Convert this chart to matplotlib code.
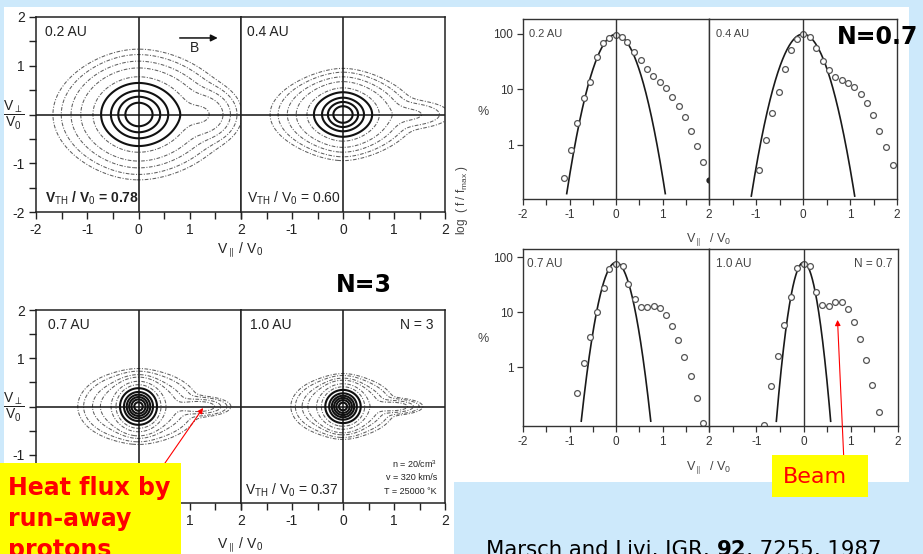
import numpy as np
import matplotlib
matplotlib.use('Agg')
import matplotlib.pyplot as plt
from matplotlib.patches import Rectangle
from matplotlib.ticker import MultipleLocator, FixedLocator, FixedFormatter, NullLocator

W, H = 923, 554
BG = '#cde9fb'

plt.rcParams['mathtext.fontset'] = 'custom'
plt.rcParams['mathtext.rm'] = 'Liberation Sans'
plt.rcParams['mathtext.it'] = 'Liberation Sans:italic'
plt.rcParams['mathtext.bf'] = 'Liberation Sans:bold'
plt.rcParams['axes.unicode_minus'] = False

# ---------------- data ----------------
# contour panels (model distribution parameters: core + halo + beam)
contour_labels = ['0.2 AU', '0.4 AU', '0.7 AU', '1.0 AU']
core_ax_left = [0.524, 0.3735, 0.25, 0.237]
core_ax_right = [0.56, 0.3735, 0.25, 0.237]
core_cx = [3.56, 1.275, 1e6, 1e6]
core_ay = [0.51, 0.36, 0.27, 0.245]
halo_n = [0.0, 0.0, 0.0455, 0.07]
halo_wx = [1.0, 1.0, 0.61, 0.50]
halo_wy = [1.0, 1.0, 0.394, 0.315]
beam_n = [0.10, 0.012, 0.02, 0.02]
beam_u = [1.25, 1.30, 1.20, 1.00]
beam_wx = [0.35, 0.50, 0.35, 0.33]
beam_wy = [0.30, 0.18, 0.12, 0.10]
thick_levels_top = [0.2, 0.4, 0.6, 0.8]
thin_levels_top = [0.001, 0.003, 0.01, 0.03, 0.1]
thick_levels_bottom = [0.15, 0.3, 0.45, 0.6, 0.75, 0.9]
thin_levels_bottom = [0.001, 0.002, 0.005, 0.01, 0.03, 0.07]
vth_values = ['0.78', '0.60', '0.37']

# reduced distributions (percent of f_max)
dist_labels = ['0.2 AU', '0.4 AU', '0.7 AU', '1.0 AU']
v_02 = [-1.125, -0.975, -0.83, -0.69, -0.56, -0.415, -0.28, -0.15, 0.0, 0.12, 0.24, 0.39,
        0.53, 0.67, 0.80, 0.94, 1.075, 1.21, 1.35, 1.48, 1.61, 1.75, 1.88]
f_02 = [0.25, 0.82, 2.5, 7.1, 13.6, 37.5, 69, 83, 96, 87, 70, 47,
        33, 23.2, 17.3, 13.3, 10.4, 7.4, 5.1, 3.15, 1.79, 0.96, 0.49]
v_04 = [-0.93, -0.78, -0.65, -0.52, -0.375, -0.25, -0.12, 0.0, 0.14, 0.28, 0.42, 0.55,
        0.68, 0.82, 0.96, 1.09, 1.23, 1.355, 1.49, 1.62, 1.77, 1.91]
f_04 = [0.36, 1.21, 3.7, 9.1, 22.8, 51.5, 80, 98, 88, 55, 31.8, 21.8,
        16.6, 14.4, 13.1, 11.1, 8.3, 5.6, 3.4, 1.81, 0.93, 0.43]
v_07 = [-0.83, -0.69, -0.55, -0.41, -0.26, -0.14, 0.0, 0.14, 0.26, 0.41, 0.54, 0.67,
        0.81, 0.94, 1.07, 1.21, 1.34, 1.47, 1.61, 1.74, 1.87]
f_07 = [0.34, 1.17, 3.5, 10.1, 26.9, 60.5, 76, 68, 32.3, 17, 12.5, 12.6,
        12.8, 11.7, 8.7, 5.6, 3.1, 1.52, 0.69, 0.27, 0.095]
v_10 = [-0.84, -0.69, -0.55, -0.41, -0.27, -0.13, 0.0, 0.135, 0.26, 0.40, 0.53, 0.67,
        0.81, 0.94, 1.06, 1.19, 1.33, 1.45, 1.59]
f_10 = [0.088, 0.45, 1.56, 5.8, 18.7, 62, 76, 68, 23.4, 13.4, 13.0, 15.4,
        15.2, 11.2, 6.5, 3.2, 1.32, 0.48, 0.15]
extra_v = [2.0]
extra_f = [0.23]
fit_peak = [97, 98, 80, 80]
fit_vth = [0.413, 0.425, 0.29, 0.223]
fit_floor = [0.13, 0.12, 0.10, 0.10]

# ---------------- figure ----------------
fig = plt.figure(figsize=(W / 100, H / 100), dpi=100)
fig.patch.set_facecolor(BG)


def rect_px(x0, y0, x1, y1, color, z):
    fig.add_artist(Rectangle((x0 / W, 1 - y1 / H), (x1 - x0) / W, (y1 - y0) / H,
                             transform=fig.transFigure, facecolor=color,
                             edgecolor='none', zorder=z))


def axes_px(x0, y0, x1, y1):
    a = fig.add_axes([x0 / W, 1 - y1 / H, (x1 - x0) / W, (y1 - y0) / H])
    a.set_facecolor('white')
    return a


def ft(x, y, s, **kw):
    kw.setdefault('ha', 'left')
    kw.setdefault('va', 'center')
    return fig.text(x / W, 1 - y / H, s, **kw)


rect_px(4, 7, 454, 554, 'white', -5)
rect_px(454, 7, 909, 482, 'white', -5)

SCAN = 'Liberation Sans'
TXT = '#222222'

# ---------- contour panels ----------
xg = np.linspace(-2.3, 2.3, 461)
X, Y = np.meshgrid(xg, xg)


def model(i):
    axw = np.where(X < 0, core_ax_left[i], core_ax_right[i])
    gx = (X / axw) ** 2 / (1 + np.abs(X) / core_cx[i])
    core = np.exp(-gx - (Y / core_ay[i]) ** 2)
    halo = halo_n[i] * np.exp(-(X / halo_wx[i]) ** 2 - (Y / halo_wy[i]) ** 2)
    beam = beam_n[i] * np.exp(-((X - beam_u[i]) / beam_wx[i]) ** 2 - (Y / beam_wy[i]) ** 2)
    F = core + halo + beam
    return F / F.max()


def contour_panel(box, i, left, thin_lv, thick_lv):
    a = axes_px(*box)
    F = model(i)
    a.contour(X, Y, F, levels=thin_lv, colors='#606060', linewidths=0.75,
              linestyles=[(0, (3.5, 1.5, 1, 1.5))])
    a.contour(X, Y, F, levels=thick_lv, colors='#111111', linewidths=1.5)
    a.axhline(0, color='#111111', lw=1.1)
    a.axvline(0, color='#111111', lw=1.1)
    a.set_xlim(-2, 2)
    a.set_ylim(-2, 2)
    for s in a.spines.values():
        s.set_linewidth(1.1)
        s.set_color('#222222')
    a.xaxis.set_major_locator(FixedLocator([-2, -1, 0, 1, 2]))
    a.xaxis.set_minor_locator(MultipleLocator(0.5))
    if left:
        a.set_xticklabels(['-2', '-1', '0', '1', '2'])
        a.yaxis.set_major_locator(FixedLocator([-2, -1, 0, 1, 2]))
        a.yaxis.set_minor_locator(MultipleLocator(0.5))
        a.set_yticklabels(['-2', '-1', '', '1', '2'])
    else:
        a.set_xticklabels(['', '-1', '0', '1', '2'])
        a.yaxis.set_major_locator(NullLocator())
    a.tick_params(which='both', direction='out', length=5, width=1.0, color='#222222',
                  labelsize=10, labelcolor=TXT, pad=3)
    for lab in a.get_xticklabels() + a.get_yticklabels():
        lab.set_fontfamily(SCAN)
    return a


cA = contour_panel((36, 17, 241, 212), 0, True, thin_levels_top, thick_levels_top)
cB = contour_panel((241, 17, 445, 212), 1, False, thin_levels_top, thick_levels_top)
cC = contour_panel((36, 310, 241, 503), 2, True, thin_levels_bottom, thick_levels_bottom)
cD = contour_panel((241, 310, 445, 503), 3, False, thin_levels_bottom, thick_levels_bottom)

cA.annotate('', xy=(1.6, 1.57), xytext=(0.75, 1.57),
            arrowprops=dict(arrowstyle='-|>', color='#111111', lw=1.1, mutation_scale=10))
ft(190, 48, 'B', family=SCAN, fontsize=10, color=TXT)

ft(45, 32, contour_labels[0], family=SCAN, fontsize=10, color=TXT)
ft(247, 32, contour_labels[1], family=SCAN, fontsize=10, color=TXT)
ft(45, 198, r'V$_{\mathrm{TH}}$ / V$_0$ = ' + vth_values[0], family=SCAN, fontsize=10,
   color=TXT, fontweight='bold')
ft(247, 198, r'V$_{\mathrm{TH}}$ / V$_0$ = ' + vth_values[1], family=SCAN, fontsize=10, color=TXT)
ft(48, 325, contour_labels[2], family=SCAN, fontsize=10, color=TXT)
ft(250, 325, contour_labels[3], family=SCAN, fontsize=10, color=TXT)
ft(433, 325, 'N = 3', family=SCAN, fontsize=10, color=TXT, ha='right')
ft(245, 490, r'V$_{\mathrm{TH}}$ / V$_0$ = ' + vth_values[2], family=SCAN, fontsize=10, color=TXT)
ft(437, 464, r'n = 20/cm$^3$', family=SCAN, fontsize=6.5, color=TXT, ha='right')
ft(437, 478, 'v = 320 km/s', family=SCAN, fontsize=6.5, color=TXT, ha='right')
ft(437, 492, 'T = 25000 °K', family=SCAN, fontsize=6.5, color=TXT, ha='right')

for yy in (115, 407):
    ft(14, yy, r'$\dfrac{\mathrm{V_\perp}}{\mathrm{V_0}}$', family=SCAN, fontsize=10,
       color=TXT, ha='center')
ft(240, 250, r'V$_{\parallel}$ / V$_0$', family=SCAN, fontsize=10, color=TXT, ha='center')
ft(240, 545, r'V$_{\parallel}$ / V$_0$', family=SCAN, fontsize=10, color=TXT, ha='center')

# ---------- reduced distribution panels ----------
dist_v = [v_02, v_04, v_07, v_10]
dist_f = [f_02, f_04, f_07, f_10]


def dist_panel(box, i, left, ylim):
    a = axes_px(*box)
    vv = np.linspace(-2, 2, 1601)
    ff = fit_peak[i] * np.exp(-(vv / fit_vth[i]) ** 2)
    ff = np.where(ff >= fit_floor[i], ff, np.nan)
    a.plot(vv, ff, color='#1a1a1a', lw=1.2)
    a.plot(dist_v[i], dist_f[i], 'o', ms=4.2, mfc='white', mec='#555555', mew=0.9)
    a.axvline(0, color='#333333', lw=1.0)
    a.set_yscale('log')
    a.set_xlim(-2, 2)
    a.set_ylim(*ylim)
    for s in a.spines.values():
        s.set_linewidth(1.0)
        s.set_color('#333333')
    a.xaxis.set_major_locator(FixedLocator([-2, -1, 0, 1, 2]))
    a.xaxis.set_minor_locator(MultipleLocator(0.5))
    a.yaxis.set_minor_locator(NullLocator())
    if left:
        a.set_xticklabels(['-2', '-1', '0', '1', '2'])
        a.yaxis.set_major_locator(FixedLocator([1, 10, 100]))
        a.yaxis.set_major_formatter(FixedFormatter(['1', '10', '100']))
    else:
        a.set_xticklabels(['', '-1', '0', '1', '2'])
        a.yaxis.set_major_locator(NullLocator())
    a.tick_params(which='both', direction='out', length=4, width=0.9, color='#333333',
                  labelsize=8.5, labelcolor='#333333', pad=3)
    for lab in a.get_xticklabels() + a.get_yticklabels():
        lab.set_fontfamily(SCAN)
    return a


dA = dist_panel((523, 19, 709, 199), 0, True, (0.107, 183))
dB = dist_panel((709, 19, 897, 199), 1, False, (0.107, 183))
dC = dist_panel((523, 249, 709, 426), 2, True, (0.085, 140))
dD = dist_panel((709, 249, 898, 426), 3, False, (0.085, 140))
dA.plot(extra_v, extra_f, 'o', ms=3.5, color='#222222', clip_on=False)

ft(529, 34, dist_labels[0], family=SCAN, fontsize=8, color='#444444')
ft(716, 34, dist_labels[1], family=SCAN, fontsize=8, color='#444444')
ft(527, 264, dist_labels[2], family=SCAN, fontsize=8.5, color='#444444')
ft(716, 264, dist_labels[3], family=SCAN, fontsize=8.5, color='#444444')
ft(893, 264, 'N = 0.7', family=SCAN, fontsize=8.5, color='#444444', ha='right')
ft(483, 112, '%', family=SCAN, fontsize=9, color='#444444', ha='center')
ft(483, 339, '%', family=SCAN, fontsize=9, color='#444444', ha='center')
ft(462, 200, r'log  ( f / f$_{\mathrm{max}}$ )', family=SCAN, fontsize=8.5, color='#444444',
   ha='center', rotation=90)
ft(709, 240, r'V$_{\parallel}$  / V$_0$', family=SCAN, fontsize=9, color='#444444', ha='center')
ft(709, 468, r'V$_{\parallel}$  / V$_0$', family=SCAN, fontsize=9, color='#444444', ha='center')

# ---------- slide overlays ----------
ft(878, 37, 'N=0.7', family='DejaVu Sans', fontweight='bold', fontsize=17, color='black',
   ha='center', zorder=12)
ft(364, 285, 'N=3', family='DejaVu Sans', fontweight='bold', fontsize=17, color='black',
   ha='center')

rect_px(0, 463, 181, 554, '#ffff00', 10)
for yy, s in zip((488, 519, 550), ('Heat flux by', 'run-away', 'protons')):
    ft(8, yy, s, family='DejaVu Sans', fontweight='bold', fontsize=17, color='#ff0000', zorder=11)
cC.annotate('', xy=(1.26, -0.03), xycoords='data', xytext=(165 / W, 1 - 463 / H),
            textcoords='figure fraction', annotation_clip=False,
            arrowprops=dict(arrowstyle='-|>', color='red', lw=0.8, mutation_scale=8,
                            shrinkA=0, shrinkB=0))

rect_px(772, 455, 868, 497, '#ffff00', 10)
ft(815, 477, 'Beam', family='DejaVu Sans', fontsize=16, color='#ff0000', ha='center', zorder=11)
dD.annotate('', xy=(0.72, 7.2), xycoords='data', xytext=(844 / W, 1 - 463 / H),
            textcoords='figure fraction', annotation_clip=False,
            arrowprops=dict(arrowstyle='-|>', color='red', lw=0.8, mutation_scale=8,
                            shrinkA=0, shrinkB=0))

# citation
fig.canvas.draw()
r = fig.canvas.get_renderer()
x0 = 486
parts = [('Marsch and Livi, JGR, ', 'normal'), ('92', 'bold'), (', 7255, 1987', 'normal')]
for s, w in parts:
    t = fig.text(x0 / W, 1 - 556 / H, s, family='DejaVu Sans', fontsize=15.3, fontweight=w,
                 color='black', ha='left', va='baseline')
    bb = t.get_window_extent(renderer=r)
    x0 += bb.width

fig.savefig('out.png', dpi=100, facecolor=fig.get_facecolor())
